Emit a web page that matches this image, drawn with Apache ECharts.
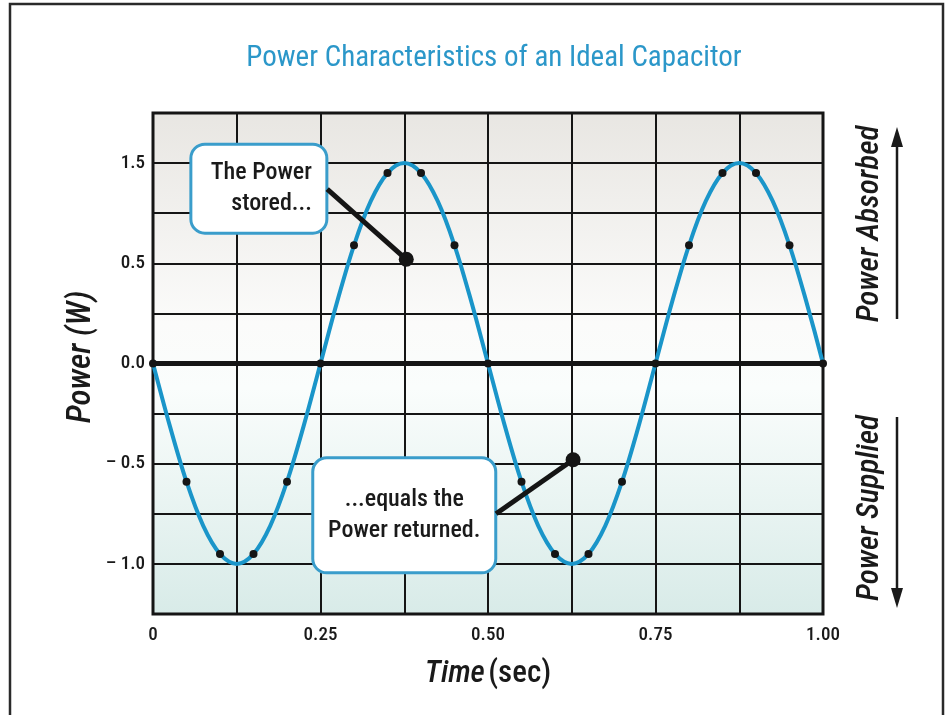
<!DOCTYPE html>
<html>
<head>
<meta charset="utf-8">
<script src="https://cdn.jsdelivr.net/npm/echarts@6/dist/echarts.min.js"></script>
<style>
html,body{margin:0;padding:0;background:#fff;}
#chart{width:948px;height:715px;}
</style>
</head>
<body>
<div id="chart"></div>
<script>
// ---- data ----
const timeSec = [0,0.025,0.05,0.075,0.1,0.125,0.15,0.175,0.2,0.225,0.25,0.275,0.3,0.325,0.35,0.375,0.4,0.425,0.45,0.475,0.5,0.525,0.55,0.575,0.6,0.625,0.65,0.675,0.7,0.725,0.75,0.775,0.8,0.825,0.85,0.875,0.9,0.925,0.95,0.975,1];
// curve values in grid units (one unit = one labelled gridline step)
const powerCurve = [0,-0.62,-1.18,-1.62,-1.90,-2.00,-1.90,-1.62,-1.18,-0.62,0,0.62,1.18,1.62,1.90,2.00,1.90,1.62,1.18,0.62,0,-0.62,-1.18,-1.62,-1.90,-2.00,-1.90,-1.62,-1.18,-0.62,0,0.62,1.18,1.62,1.90,2.00,1.90,1.62,1.18,0.62,0];
const dotTime = [0,0.05,0.1,0.15,0.2,0.25,0.3,0.35,0.4,0.45,0.5,0.55,0.6,0.65,0.7,0.75,0.8,0.85,0.9,0.95,1];
const dotPower = [0,-1.18,-1.90,-1.90,-1.18,0,1.18,1.90,1.90,1.18,0,-1.18,-1.90,-1.90,-1.18,0,1.18,1.90,1.90,1.18,0];
const xTickValues = [0,0.25,0.5,0.75,1];
const xTickLabels = ['0','0.25','0.50','0.75','1.00'];
const yTickValues = [2,1,0,-1,-2];
const yTickLabels = ['1.5','0.5','0.0','– 0.5','– 1.0'];
const calloutTexts = [['The Power','stored...'],['...equals the','Power returned.']];
const calloutPointTime = [0.378,0.627];
const calloutPointPower = [1.04,-0.96];
const calloutLineStartTime = [0.26,0.512];
const calloutLineStartPower = [1.74,-1.50];
const calloutBoxTime = [0.158,0.375];
const calloutBoxPower = [1.745,-1.515];

const FONT = "'Liberation Sans Narrow','Roboto Condensed','DejaVu Sans Condensed','Liberation Sans',sans-serif";
const BLUE = '#1a95c9';
const INK = '#151515';

const chart = echarts.init(document.getElementById('chart'), null, {renderer:'canvas'});

const curveData = timeSec.map((t,i)=>[t,powerCurve[i]]);
const dotData = dotTime.map((t,i)=>[t,dotPower[i]]);
const pointerLines = calloutPointTime.map((t,i)=>[
  {coord:[calloutLineStartTime[i],calloutLineStartPower[i]]},
  {coord:[t,calloutPointPower[i]]}
]);
const pointerDots = calloutPointTime.map((t,i)=>[t,calloutPointPower[i]]);

function lbl(list, labels, v){
  for (let i=0;i<list.length;i++){ if (Math.abs(list[i]-v)<1e-9) return labels[i]; }
  return '';
}

chart.setOption({
  animation:false,
  backgroundColor:'#ffffff',
  title:{
    text:'Power Characteristics of an Ideal Capacitor',
    left:489, top:39, textAlign:'center',
    textStyle:{fontFamily:FONT,fontSize:29,fontWeight:'normal',color:'#2b97c9'}
  },
  grid:{
    left:153, top:113, right:125, bottom:101,
    show:true,
    borderColor:INK, borderWidth:3,
    backgroundColor:new echarts.graphic.LinearGradient(0,0,0,1,[
      {offset:0,color:'#e8e6e2'},
      {offset:0.42,color:'#fbfbfa'},
      {offset:0.55,color:'#fafdfc'},
      {offset:1,color:'#d8ebe8'}
    ])
  },
  xAxis:{
    type:'value', min:0, max:1, interval:0.125,
    axisLine:{show:false}, axisTick:{show:false},
    splitLine:{show:true,lineStyle:{color:INK,width:2}},
    axisLabel:{margin:12,fontFamily:FONT,fontSize:19,fontWeight:500,color:'#1a1a1a',
      formatter:v=>lbl(xTickValues,xTickLabels,v)},
    name:'{i|Time} {n|(sec)}', nameLocation:'middle', nameGap:45,
    nameTextStyle:{rich:{
      i:{fontFamily:FONT,fontStyle:'italic',fontWeight:500,fontSize:31,color:'#1a1a1a'},
      n:{fontFamily:FONT,fontWeight:500,fontSize:31,color:'#1a1a1a'}
    }}
  },
  yAxis:{
    type:'value', min:-2.5, max:2.5, interval:0.5,
    axisLine:{show:false}, axisTick:{show:false},
    splitLine:{show:true,lineStyle:{color:INK,width:2}},
    axisLabel:{margin:8,fontFamily:FONT,fontSize:19,fontWeight:500,color:'#1a1a1a',
      formatter:v=>lbl(yTickValues,yTickLabels,v)}
  },
  series:[
    {
      type:'line', data:[[0,0],[1,0]], symbol:'none', z:2,
      lineStyle:{color:INK,width:5}, silent:true,
      markLine:{silent:true,symbol:['none','none'],
        lineStyle:{color:INK,width:5,type:'solid'},label:{show:false},
        data:pointerLines}
    },
    {
      type:'line', data:curveData, smooth:0.35, symbol:'none', z:3,
      lineStyle:{color:BLUE,width:4}
    },
    {
      type:'scatter', data:dotData, symbol:'circle', symbolSize:8, z:4,
      itemStyle:{color:INK,opacity:1}
    },
    {
      type:'scatter', data:pointerDots, symbol:'circle', symbolSize:15, z:4,
      itemStyle:{color:INK,opacity:1}
    }
  ]
});

// callout boxes positioned from data coordinates
const boxW = [136,183], boxH = [89,115];
const callouts = calloutTexts.map((lines,i)=>{
  const c = chart.convertToPixel({gridIndex:0},[calloutBoxTime[i],calloutBoxPower[i]]);
  const w = boxW[i], h = boxH[i];
  const right = i===0;
  return {
    type:'group', x:c[0]-w/2, y:c[1]-h/2, z:50,
    children:[
      {type:'rect', shape:{x:0,y:0,width:w,height:h,r:14},
        style:{fill:'#ffffff',stroke:'#3a9dcb',lineWidth:3}},
      {type:'text', x: right ? w-15 : w/2, y:h/2,
        style:{text:lines.join('\n'), fontFamily:FONT, fontSize:24, fontWeight:500, lineHeight:31,
          fill:'#1a1a1a', align: right ? 'right' : 'center', verticalAlign:'middle'}}
    ]
  };
});

chart.setOption({graphic:[
  // outer frame
  {type:'rect', shape:{x:10,y:4,width:933,height:740}, style:{fill:'none',stroke:'#2a2a2a',lineWidth:2.5}, z:100},
  // y axis title
  {type:'text', x:82, y:357, rotation:Math.PI/2,
    style:{text:'Power (W)', fontFamily:FONT, fontStyle:'italic', fontWeight:500, fontSize:33, fill:'#1a1a1a', align:'center', verticalAlign:'middle'}},
  // right side annotations
  {type:'text', x:870, y:224, rotation:Math.PI/2,
    style:{text:'Power Absorbed', fontFamily:FONT, fontStyle:'italic', fontWeight:500, fontSize:31, fill:'#1a1a1a', align:'center', verticalAlign:'middle'}},
  {type:'line', shape:{x1:897,y1:319,x2:897,y2:140}, style:{stroke:'#1a1a1a',lineWidth:2.5}},
  {type:'polygon', shape:{points:[[897,127],[891,147],[903,147]]}, style:{fill:'#1a1a1a'}},
  {type:'text', x:870, y:508, rotation:Math.PI/2,
    style:{text:'Power Supplied', fontFamily:FONT, fontStyle:'italic', fontWeight:500, fontSize:31, fill:'#1a1a1a', align:'center', verticalAlign:'middle'}},
  {type:'line', shape:{x1:897,y1:417,x2:897,y2:595}, style:{stroke:'#1a1a1a',lineWidth:2.5}},
  {type:'polygon', shape:{points:[[897,608],[891,588],[903,588]]}, style:{fill:'#1a1a1a'}}
].concat(callouts)});
</script>
</body>
</html>
